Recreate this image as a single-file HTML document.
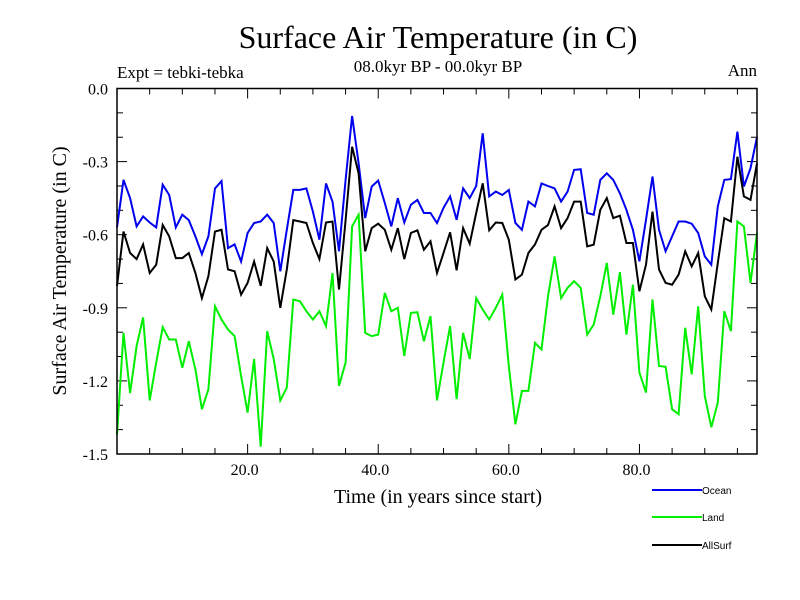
<!DOCTYPE html>
<html><head><meta charset="utf-8"><style>
body{margin:0;background:#fff}
svg{display:block}
text{font-family:"Liberation Serif",serif;fill:#000}
#legend text{font-family:"Liberation Sans",sans-serif}
</style></head><body>
<svg id="c" width="800" height="600">
<text x="438" y="48" font-size="32" text-anchor="middle">Surface Air Temperature (in C)</text>
<text x="117" y="78" font-size="17">Expt = tebki-tebka</text>
<text x="438" y="72" font-size="17" text-anchor="middle">08.0kyr BP - 00.0kyr BP</text>
<text x="757" y="76" font-size="17" text-anchor="end">Ann</text>
<text transform="translate(66,271) rotate(-90)" font-size="20" text-anchor="middle">Surface Air Temperature (in C)</text>
<text x="438" y="503" font-size="20" text-anchor="middle">Time (in years since start)</text>
<g id="ticks"></g>
<g id="series"></g>
<rect x="117" y="88.5" width="640" height="365.5" fill="none" stroke="#000" stroke-width="1.5"/>
<g id="legend"></g>
</svg>
<script>
const ocean=[-0.57,-0.375,-0.45,-0.566,-0.525,-0.55,-0.57,-0.395,-0.437,-0.57,-0.518,-0.54,-0.607,-0.68,-0.607,-0.41,-0.38,-0.655,-0.64,-0.71,-0.593,-0.552,-0.546,-0.518,-0.552,-0.75,-0.58,-0.416,-0.416,-0.41,-0.505,-0.62,-0.39,-0.464,-0.668,-0.375,-0.113,-0.307,-0.532,-0.402,-0.378,-0.47,-0.566,-0.45,-0.55,-0.477,-0.457,-0.511,-0.511,-0.552,-0.49,-0.443,-0.539,-0.41,-0.45,-0.4,-0.184,-0.443,-0.423,-0.437,-0.416,-0.552,-0.58,-0.464,-0.484,-0.39,-0.4,-0.41,-0.464,-0.423,-0.334,-0.331,-0.511,-0.518,-0.375,-0.348,-0.375,-0.43,-0.498,-0.58,-0.709,-0.539,-0.361,-0.58,-0.668,-0.607,-0.546,-0.546,-0.555,-0.593,-0.689,-0.723,-0.484,-0.375,-0.372,-0.177,-0.402,-0.327,-0.2];
const land=[-1.42,-1.003,-1.25,-1.057,-0.94,-1.28,-1.125,-0.98,-1.03,-1.03,-1.146,-1.037,-1.153,-1.316,-1.235,-0.894,-0.948,-0.989,-1.016,-1.18,-1.33,-1.11,-1.47,-0.996,-1.11,-1.28,-1.228,-0.866,-0.873,-0.914,-0.948,-0.914,-0.975,-0.757,-1.22,-1.125,-0.566,-0.518,-1.003,-1.016,-1.01,-0.839,-0.914,-0.9,-1.098,-0.921,-0.918,-1.037,-0.934,-1.28,-1.125,-0.975,-1.275,-1.003,-1.11,-0.86,-0.907,-0.948,-0.9,-0.846,-1.139,-1.378,-1.241,-1.241,-1.044,-1.071,-0.853,-0.689,-0.86,-0.818,-0.791,-0.818,-1.01,-0.969,-0.853,-0.716,-0.928,-0.754,-1.01,-0.805,-1.166,-1.248,-0.866,-1.139,-1.142,-1.316,-1.337,-0.982,-1.173,-0.894,-1.262,-1.39,-1.289,-0.914,-0.996,-0.546,-0.566,-0.798,-0.593];
const allsurf=[-0.81,-0.587,-0.675,-0.7,-0.64,-0.757,-0.723,-0.56,-0.607,-0.696,-0.696,-0.675,-0.757,-0.86,-0.77,-0.587,-0.58,-0.743,-0.75,-0.846,-0.798,-0.71,-0.81,-0.655,-0.71,-0.9,-0.743,-0.54,-0.546,-0.552,-0.634,-0.7,-0.55,-0.546,-0.825,-0.54,-0.239,-0.348,-0.668,-0.573,-0.555,-0.58,-0.662,-0.573,-0.7,-0.593,-0.582,-0.662,-0.627,-0.757,-0.675,-0.59,-0.746,-0.573,-0.637,-0.511,-0.389,-0.582,-0.55,-0.552,-0.62,-0.784,-0.764,-0.675,-0.64,-0.58,-0.56,-0.484,-0.573,-0.532,-0.464,-0.464,-0.648,-0.641,-0.498,-0.45,-0.532,-0.522,-0.634,-0.634,-0.832,-0.723,-0.505,-0.743,-0.798,-0.805,-0.764,-0.668,-0.73,-0.675,-0.853,-0.907,-0.716,-0.532,-0.546,-0.28,-0.443,-0.457,-0.307];
const yTicks=[0.0,-0.3,-0.6,-0.9,-1.2,-1.5];
const yTickLabels=["0.0","-0.3","-0.6","-0.9","-1.2","-1.5"];
const xTicks=[20,40,60,80];
const xTickLabels=["20.0","40.0","60.0","80.0"];
const NS='http://www.w3.org/2000/svg';
const X0=117,X1=757,Y0=88.5,Y1=454,XMIN=0,XMAX=98,YMAX=0,YMIN=-1.5;
function xs(t){return X0+(t-XMIN)/(XMAX-XMIN)*(X1-X0);}
function ys(v){return Y0+(YMAX-v)/(YMAX-YMIN)*(Y1-Y0);}
function mk(tag,attrs,parent){const e=document.createElementNS(NS,tag);for(const k in attrs)e.setAttribute(k,attrs[k]);parent.appendChild(e);return e;}
const tg=document.getElementById('ticks');
for(let v=0;v>=-1.5001;v-=0.1){const y=ys(v);const major=Math.abs(v*10/3-Math.round(v*10/3))<1e-6;const L=major?10:6;
 const a=mk('line',{x1:X0,x2:X0+L,y1:y,y2:y,stroke:'#000','stroke-width':1},tg);
 
 
 const b=mk('line',{x1:X1,x2:X1-L,y1:y,y2:y,stroke:'#000','stroke-width':1},tg);
 
 }
yTicks.forEach((v,i)=>{const t=mk('text',{x:108,y:ys(v)+6,'font-size':16,'text-anchor':'end'},tg);t.textContent=yTickLabels[i];
 
 });
for(let t=5;t<XMAX;t+=5){const x=xs(t);const L=(t%20===0)?10:6;
 const a=mk('line',{x1:x,x2:x,y1:Y1,y2:Y1-L,stroke:'#000','stroke-width':1},tg);
 
 
 const b=mk('line',{x1:x,x2:x,y1:Y0,y2:Y0+L,stroke:'#000','stroke-width':1},tg);
 
 }
xTicks.forEach((v,i)=>{const t=mk('text',{x:xs(v)-3,y:475,'font-size':16,'text-anchor':'middle'},tg);t.textContent=xTickLabels[i];
 
 });
const sg=document.getElementById('series');
const series=[[land,'#00ee00','land-line'],[ocean,'#0000ee','ocean-line'],[allsurf,'#000','allsurf-line']];
series.forEach(([d,c,n])=>{const p=mk('polyline',{points:d.map((v,i)=>xs(i).toFixed(1)+','+ys(v).toFixed(1)).join(' '),fill:'none',stroke:c,'stroke-width':2},sg);
 
 });
const lg=document.getElementById('legend');
[['Ocean','#0000ee',490],['Land','#00ee00',517],['AllSurf','#000',545]].forEach(([n,c,y])=>{
 const l=mk('line',{x1:652,x2:702,y1:y,y2:y,stroke:c,'stroke-width':2},lg);
 
 
 const t=mk('text',{x:702,y:y+4,'font-size':10},lg);t.textContent=n;
 
 });
</script>
</body></html>
